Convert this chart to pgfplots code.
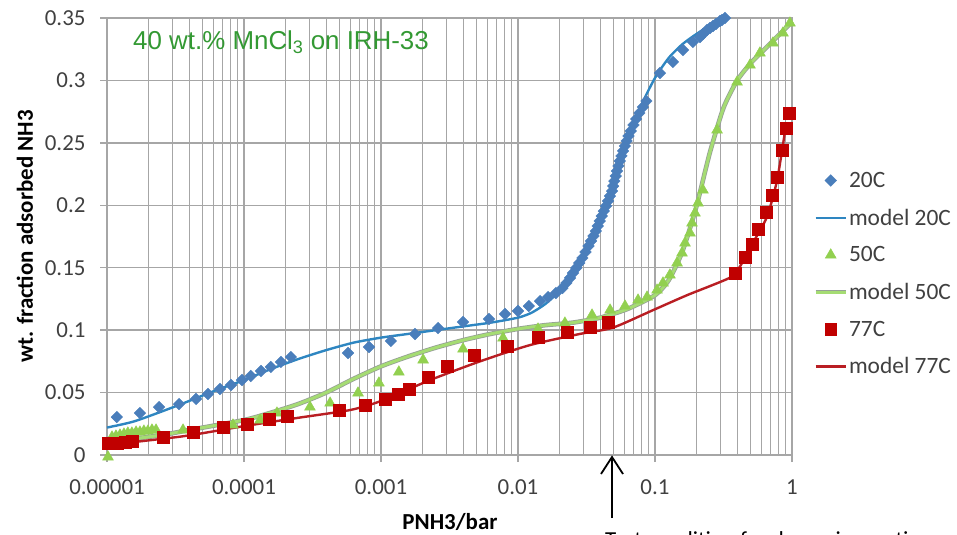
\documentclass[border=0pt]{standalone}
\usepackage{pgfplots}
\pgfplotsset{compat=1.18}
\usepackage{pgfplotstable}
\usepackage{fontspec}
\setmainfont{Carlito}
\newfontfamily\arialfont{Liberation Sans}

\definecolor{gridgray}{RGB}{166,166,166}
\definecolor{ticktext}{RGB}{64,64,64}
\definecolor{bluept}{RGB}{74,126,187}
\definecolor{blueline}{RGB}{46,134,193}
\definecolor{greenpt}{RGB}{146,208,80}
\definecolor{greenline}{RGB}{165,220,115}
\definecolor{greenedge}{RGB}{150,160,150}
\definecolor{redpt}{RGB}{192,0,0}
\definecolor{redline}{RGB}{185,30,35}
\definecolor{titlegreen}{RGB}{51,153,51}

% measured uptake, 20 C
\pgfplotstableread{
p v
1.18e-5 0.0304
1.74e-5 0.0336
2.40e-5 0.0384
3.36e-5 0.0408
4.47e-5 0.0449
5.46e-5 0.0489
6.68e-5 0.0529
8.04e-5 0.0561
9.67e-5 0.0601
1.12e-4 0.0633
1.33e-4 0.0673
1.57e-4 0.0705
1.86e-4 0.0745
2.20e-4 0.0785
5.74e-4 0.0817
8.17e-4 0.0865
1.18e-3 0.0913
1.77e-3 0.0969
2.61e-3 0.1017
3.97e-3 0.1065
6.14e-3 0.1089
8.04e-3 0.1129
1.00e-2 0.1153
1.20e-2 0.1193
1.45e-2 0.1233
1.66e-2 0.1265
1.89e-2 0.1297
2.11e-2 0.1337
2.256e-2 0.1378
2.40e-2 0.1418
2.52e-2 0.1458
2.66e-2 0.1498
2.80e-2 0.1538
2.95e-2 0.1578
3.11e-2 0.1626
3.27e-2 0.1674
3.41e-2 0.1714
3.56e-2 0.1754
3.70e-2 0.1794
3.82e-2 0.1834
3.95e-2 0.1874
4.09e-2 0.1914
4.23e-2 0.1954
4.39e-2 0.1994
4.54e-2 0.2034
4.69e-2 0.2074
4.86e-2 0.2114
4.95e-2 0.2154
5.05e-2 0.2194
5.17e-2 0.2234
5.28e-2 0.2275
5.41e-2 0.2315
5.53e-2 0.2355
5.69e-2 0.2395
5.85e-2 0.2435
6.03e-2 0.2475
6.21e-2 0.2515
6.41e-2 0.2555
6.65e-2 0.2595
6.96e-2 0.2643
7.28e-2 0.2691
7.69e-2 0.2739
8.16e-2 0.2787
8.65e-2 0.2835
0.1087 0.3059
0.1352 0.3148
0.160 0.3244
0.189 0.3308
0.213 0.3348
0.224 0.3372
0.240 0.3404
0.252 0.3420
0.265 0.3436
0.279 0.3452
0.298 0.3476
0.308 0.3484
0.324 0.3500
}\dataA

% model, 20 C
\pgfplotstableread{
p v
1e-5 0.022
1.585e-5 0.027
3.162e-5 0.039
6.31e-5 0.052
1e-4 0.060
1.585e-4 0.069
2.512e-4 0.077
3.981e-4 0.084
6.31e-4 0.090
1e-3 0.094
1.585e-3 0.097
2.512e-3 0.100
3.981e-3 0.103
6.31e-3 0.106
0.01 0.110
0.01259 0.114
0.01585 0.121
0.01995 0.131
0.02512 0.145
0.03162 0.163
0.03981 0.188
0.05012 0.216
0.0631 0.251
0.07943 0.280
0.1 0.302
0.1259 0.318
0.1585 0.329
0.1995 0.337
0.2512 0.344
0.3162 0.349
0.335 0.350
}\modelA

% measured uptake, 50 C
\pgfplotstableread{
p v
1.017e-5 -0.0016
1.088e-5 0.0144
1.163e-5 0.0152
1.244e-5 0.0160
1.33e-5 0.0168
1.42e-5 0.0176
1.52e-5 0.0176
1.63e-5 0.0184
1.74e-5 0.0184
1.86e-5 0.0192
1.99e-5 0.0192
2.13e-5 0.0200
2.28e-5 0.0200
3.59e-5 0.0200
8.31e-5 0.0240
1.31e-4 0.0280
1.74e-4 0.0336
3.03e-4 0.0384
4.25e-4 0.0416
6.80e-4 0.0497
9.66e-4 0.0577
1.35e-3 0.0665
2.03e-3 0.0761
3.97e-3 0.0849
7.78e-3 0.0937
1.40e-2 0.1009
2.20e-2 0.1057
3.47e-2 0.1121
4.70e-2 0.1161
6.04e-2 0.1193
7.52e-2 0.1241
8.75e-2 0.1265
0.1035 0.1321
0.1144 0.1378
0.1285 0.1442
0.1449 0.1538
0.1574 0.1618
0.1656 0.1698
0.1800 0.1778
0.1862 0.1858
0.1959 0.1938
0.2060 0.2018
0.2239 0.2122
0.2838 0.2603
0.3972 0.2987
0.4936 0.3123
0.5834 0.3220
0.7261 0.3300
0.8590 0.3380
0.9661 0.3460
}\dataB

% model, 50 C
\pgfplotstableread{
p v
1e-5 0.010
2.512e-5 0.016
3.981e-5 0.020
1e-4 0.028
1.585e-4 0.034
2.512e-4 0.041
3.981e-4 0.050
6.31e-4 0.061
1e-3 0.071
1.585e-3 0.079
2.512e-3 0.086
3.981e-3 0.092
6.31e-3 0.097
0.01 0.101
0.01585 0.104
0.02512 0.106
0.03981 0.110
0.0631 0.117
0.1 0.128
0.1259 0.140
0.1585 0.163
0.1995 0.198
0.2512 0.242
0.3162 0.278
0.3981 0.300
0.5012 0.314
0.631 0.325
0.7943 0.336
1 0.347
}\modelB

% measured uptake, 77 C
\pgfplotstableread{
p v
1.017e-5 0.0096
1.183e-5 0.0096
1.353e-5 0.0104
1.522e-5 0.0112
2.56e-5 0.0144
4.24e-5 0.0184
7.03e-5 0.0224
1.05e-4 0.0248
1.52e-4 0.0288
2.06e-4 0.0312
4.93e-4 0.0360
7.64e-4 0.0400
1.07e-3 0.0449
1.33e-3 0.0489
1.60e-3 0.0529
2.20e-3 0.0625
3.03e-3 0.0713
4.77e-3 0.0801
8.32e-3 0.0873
1.40e-2 0.0945
2.28e-2 0.0985
3.36e-2 0.1025
4.54e-2 0.1065
0.384 0.1458
0.454 0.1586
0.511 0.1690
0.565 0.1810
0.646 0.1946
0.714 0.2082
0.778 0.2226
0.845 0.2443
0.904 0.2619
0.951 0.2739
}\dataC

% model, 77 C
\pgfplotstableread{
p v
1e-5 0.008
3.59e-5 0.015
9.84e-5 0.023
2.56e-4 0.030
5.94e-4 0.036
9.84e-4 0.043
2.28e-3 0.060
5.28e-3 0.075
1.22e-2 0.088
2.84e-2 0.097
4.93e-2 0.102
9.66e-2 0.116
0.1714 0.128
0.352 0.142
0.417 0.151
0.519 0.170
0.658 0.191
0.778 0.220
0.889 0.259
}\modelC

\begin{document}
\begin{tikzpicture}
\begin{axis}[
  at={(107bp,-455bp)}, anchor=south west,
  scale only axis, width=685bp, height=437bp,
  xmode=log, xmin=1e-5, xmax=1, ymin=0, ymax=0.35,
  xtick={1e-5,1e-4,1e-3,1e-2,1e-1,1},
  xticklabels={0.00001,0.0001,0.001,0.01,0.1,1},
  minor xtick={2e-5,3e-5,4e-5,5e-5,6e-5,7e-5,8e-5,9e-5,
               2e-4,3e-4,4e-4,5e-4,6e-4,7e-4,8e-4,9e-4,
               2e-3,3e-3,4e-3,5e-3,6e-3,7e-3,8e-3,9e-3,
               2e-2,3e-2,4e-2,5e-2,6e-2,7e-2,8e-2,9e-2,
               0.2,0.3,0.4,0.5,0.6,0.7,0.8,0.9},
  ytick={0,0.05,0.1,0.15,0.2,0.25,0.3,0.35},
  yticklabels={0,0.05,0.1,0.15,0.2,0.25,0.3,0.35},
  xmajorgrids, xminorgrids, ymajorgrids,
  major grid style={gridgray, line width=1.4bp},
  minor grid style={gridgray, line width=1.4bp},
  axis line style={gridgray, line width=1.4bp},
  tick style={gridgray, line width=1.4bp},
  tick align=outside, major tick length=7bp, minor tick length=0pt,
  xtick pos=bottom, ytick pos=left,
  ticklabel style={font=\fontsize{23}{23}\selectfont, text=ticktext},
  xticklabel style={yshift=-14bp},
  yticklabel style={xshift=-11bp},
  xlabel={\textbf{PNH3/bar}},
  ylabel={\textbf{wt. fraction adsorbed NH3}},
  every axis x label/.style={at={(axis description cs:0.5007,-0.153)}, anchor=center, font=\fontsize{23}{23}\selectfont},
  every axis y label/.style={at={(axis description cs:-0.1197,0.5)}, rotate=90, anchor=center, font=\fontsize{23}{23}\selectfont},
  clip=false,
  legend style={at={(1.031,0.650)}, anchor=north west, draw=none, fill=none,
    font=\fontsize{23.5}{23.5}\selectfont, row sep=18bp, inner sep=0pt,
    nodes={inner sep=1bp, text=ticktext}},
  legend cell align=left,
  legend image code/.code={\draw[mark repeat=2,mark phase=2,#1]
    plot coordinates {(0bp,0bp)(15bp,0bp)(30bp,0bp)};},
]
\addplot[only marks, mark=square*, mark size=4.1bp, mark options={rotate=45, draw=bluept, fill=bluept}]
  table[x=p, y=v] {\dataA};
\addlegendentry{20C}
\addplot[blueline, line width=2.4bp, smooth, tension=0.4]
  table[x=p, y=v] {\modelA};
\addlegendentry{model 20C}
\addplot[only marks, mark=triangle*, mark size=6.3bp, mark options={draw=greenpt, fill=greenpt}]
  table[x=p, y=v] {\dataB};
\addlegendentry{50C}
\addplot[greenline, line width=3bp, smooth, tension=0.4,
  preaction={draw=greenedge, line width=4.6bp}]
  table[x=p, y=v] {\modelB};
\addlegendentry{model 50C}
\addplot[only marks, mark=square*, mark size=5.9bp, mark options={draw=redpt, fill=redpt}]
  table[x=p, y=v] {\dataC};
\addlegendentry{77C}
\addplot[redline, line width=2.4bp, smooth, tension=0.4]
  table[x=p, y=v] {\modelC};
\addlegendentry{model 77C}

\node[anchor=west, inner sep=0pt, text=titlegreen,
  font=\arialfont\fontsize{26}{26}\selectfont]
  at (rel axis cs:0.038,0.945) {40 wt.\% MnCl\textsubscript{3} on IRH-33};
\end{axis}

% pointer to the test pressure
\draw[black, line width=1.8bp] (612bp,-518bp) -- (612bp,-457bp);
\draw[black, line width=1.8bp] (601bp,-474bp) -- (612bp,-457bp) -- (623bp,-474bp);
\node[anchor=base west, inner sep=0pt, font=\fontsize{23}{23}\selectfont]
  at (605bp,-547bp) {Test condition for dynamic reaction};

\pgfresetboundingbox
\path[use as bounding box] (0bp,0bp) rectangle (957bp,-535bp);
\end{tikzpicture}
\end{document}
